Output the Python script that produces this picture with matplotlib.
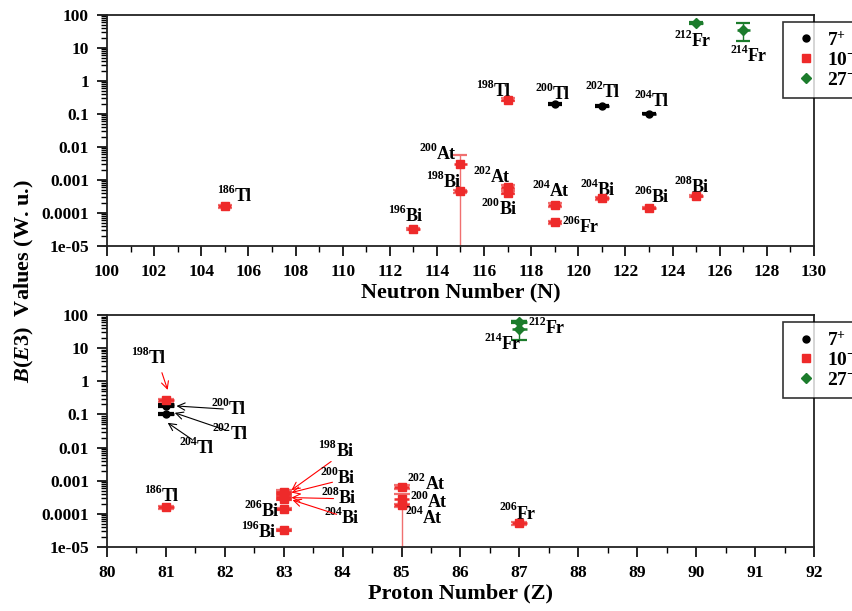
import matplotlib
matplotlib.use('Agg')
import matplotlib.pyplot as plt
from matplotlib.lines import Line2D
from matplotlib.transforms import offset_copy
from matplotlib.ticker import FixedLocator, FixedFormatter, MultipleLocator, LogLocator, NullFormatter

plt.rcParams['font.family'] = ['Liberation Serif', 'DejaVu Serif']
plt.rcParams['font.weight'] = 'bold'
plt.rcParams['mathtext.fontset'] = 'custom'
plt.rcParams['mathtext.rm'] = 'Liberation Serif:bold'
plt.rcParams['mathtext.it'] = 'Liberation Serif:italic:bold'
plt.rcParams['mathtext.bf'] = 'Liberation Serif:bold'

# ---------------- data ----------------
element = ['Tl', 'Tl', 'Tl', 'Tl', 'Tl', 'Bi', 'Bi', 'Bi', 'Bi', 'Bi', 'Bi',
           'At', 'At', 'At', 'Fr', 'Fr', 'Fr']
mass = [198, 200, 202, 204, 186, 196, 198, 200, 204, 206, 208,
        200, 202, 204, 206, 212, 214]
proton = [81, 81, 81, 81, 81, 83, 83, 83, 83, 83, 83, 85, 85, 85, 87, 87, 87]
neutron = [117, 119, 121, 123, 105, 113, 115, 117, 121, 123, 125,
           115, 117, 119, 119, 125, 127]
state = ['10-', '7+', '7+', '7+', '10-', '10-', '10-', '10-', '10-', '10-', '10-',
         '10-', '10-', '10-', '10-', '27-', '27-']
# B(E3) values (W.u.) as drawn vs neutron number
bval_N = [0.27, 0.20, 0.175, 0.102, 1.6e-4, 3.3e-5, 4.6e-4, 4.1e-4, 2.8e-4, 1.4e-4, 3.2e-4,
          3.0e-3, 6.3e-4, 1.75e-4, 5.2e-5, 56, 36]
blow_N = [0.24, 0.19, 0.168, 0.097, 1.45e-4, 3.0e-5, 4.1e-4, 3.7e-4, 2.55e-4, 1.3e-4, 2.95e-4,
          1e-7, 5.5e-4, 1.55e-4, 4.7e-5, 52, 16.5]
bhigh_N = [0.30, 0.21, 0.182, 0.107, 1.75e-4, 3.6e-5, 5.1e-4, 4.6e-4, 3.1e-4, 1.5e-4, 3.5e-4,
           5.7e-3, 7.2e-4, 1.95e-4, 5.7e-5, 60, 56]
# B(E3) values as drawn vs proton number
bval_Z = [0.27, 0.20, 0.175, 0.102, 1.6e-4, 3.3e-5, 4.6e-4, 4.1e-4, 2.8e-4, 1.4e-4, 3.2e-4,
          2.8e-4, 6.3e-4, 1.85e-4, 5.2e-5, 60, 38]
blow_Z = [0.24, 0.19, 0.168, 0.097, 1.45e-4, 3.0e-5, 4.1e-4, 3.7e-4, 2.55e-4, 1.3e-4, 2.95e-4,
          1e-7, 5.5e-4, 1.65e-4, 4.7e-5, 56, 17.6]
bhigh_Z = [0.30, 0.21, 0.182, 0.107, 1.75e-4, 3.6e-5, 5.1e-4, 4.6e-4, 3.1e-4, 1.5e-4, 3.5e-4,
           3.9e-4, 7.2e-4, 2.05e-4, 5.7e-5, 66, 66]

series = ['7+', '10-', '27-']
series_labels = ['7$^{+}$', '10$^{-}$', '27$^{-}$']
ytick_vals = [1e-5, 1e-4, 1e-3, 1e-2, 1e-1, 1, 10, 100]
ytick_text = ['1e-05', '0.0001', '0.001', '0.01', '0.1', '1', '10', '100']

# ---------------- label placement (data coords) ----------------
lab_N = {
    (198, 'Tl'): (116.42, 0.54), (200, 'Tl'): (118.92, 0.43), (202, 'Tl'): (121.04, 0.50),
    (204, 'Tl'): (123.12, 0.265), (186, 'Tl'): (105.43, 3.5e-4), (196, 'Bi'): (112.69, 8.7e-5),
    (198, 'Bi'): (114.3, 9.3e-4), (200, 'Bi'): (116.67, 1.4e-4), (204, 'Bi'): (120.83, 5.3e-4),
    (206, 'Bi'): (123.12, 3.3e-4), (208, 'Bi'): (124.82, 6.6e-4), (200, 'At'): (114.0, 6.6e-3),
    (202, 'At'): (116.29, 1.3e-3), (204, 'At'): (118.8, 5.0e-4), (206, 'Fr'): (120.07, 4.1e-5),
    (212, 'Fr'): (124.82, 17.4), (214, 'Fr'): (127.2, 6.2),
}
lab_Z = {
    (198, 'Tl'): ((80.71, 5.4), (81.03, 0.55), 'red'),
    (200, 'Tl'): ((82.07, 0.155), (81.18, 0.18), 'black'),
    (202, 'Tl'): ((82.10, 0.0275), (81.15, 0.112), 'black'),
    (204, 'Tl'): ((81.53, 0.0104), (81.03, 0.056), 'black'),
    (186, 'Tl'): ((80.93, 3.7e-4), None, None),
    (198, 'Bi'): ((83.89, 8.5e-3), (83.13, 5.2e-4), 'red'),
    (200, 'Bi'): ((83.92, 1.3e-3), (83.13, 4.4e-4), 'red'),
    (208, 'Bi'): ((83.94, 3.2e-4), (83.13, 3.1e-4), 'red'),
    (204, 'Bi'): ((83.99, 8.0e-5), (83.15, 2.6e-4), 'red'),
    (206, 'Bi'): ((82.63, 1.3e-4), None, None),
    (196, 'Bi'): ((82.58, 3.0e-5), None, None),
    (202, 'At'): ((85.41, 8.5e-4), None, None),
    (200, 'At'): ((85.45, 2.5e-4), None, None),
    (204, 'At'): ((85.36, 8.3e-5), None, None),
    (206, 'Fr'): ((86.96, 1.1e-4), None, None),
    (212, 'Fr'): ((87.45, 43), None, None),
    (214, 'Fr'): ((86.70, 14.3), None, None),
}

# ---------------- styles ----------------
RED = '#ee2a2a'
ERR_RED = '#f07070'
GREEN = '#1c7c2c'
style = {
    '7+': dict(color='black', marker='o', ms=5, ecolor='black'),
    '10-': dict(color=RED, marker='s', ms=6, ecolor=RED),
    '27-': dict(color=GREEN, marker='D', ms=5, ecolor=GREEN),
}
EL_SIZE = 13
MASS_SIZE = 8.5

fig = plt.figure(figsize=(8.53, 6.11), dpi=100)
ax1 = fig.add_axes([0.1254, 0.5974, 0.8289, 0.3781])
ax2 = fig.add_axes([0.1254, 0.1047, 0.8289, 0.3797])


def draw(ax, xs, vals, lows, highs, xerr, capsize):
    for s in series:
        idx = [i for i in range(len(xs)) if state[i] == s]
        st = style[s]
        x = [xs[i] for i in idx]
        y = [vals[i] for i in idx]
        ylo = [vals[i] - lows[i] for i in idx]
        yhi = [highs[i] - vals[i] for i in idx]
        ecol = ERR_RED if s == '10-' else st['ecolor']
        ax.errorbar(x, y, yerr=[ylo, yhi], fmt='none', ecolor=ecol, elinewidth=1.0,
                    capsize=capsize, capthick=1.6, zorder=2)
        ax.errorbar(x, y, xerr=xerr, fmt='none', ecolor=st['ecolor'], elinewidth=1.8, zorder=3)
        ax.plot(x, y, linestyle='none', marker=st['marker'], color=st['color'],
                ms=st['ms'], mec=st['color'], zorder=4)


def style_axes(ax, xmin, xmax, major, minor):
    ax.set_yscale('log')
    ax.set_ylim(1e-5, 100)
    ax.set_xlim(xmin, xmax)
    ax.yaxis.set_major_locator(FixedLocator(ytick_vals))
    ax.yaxis.set_major_formatter(FixedFormatter(ytick_text))
    ax.yaxis.set_minor_locator(LogLocator(base=10, subs=range(2, 10), numticks=20))
    ax.yaxis.set_minor_formatter(NullFormatter())
    ax.xaxis.set_major_locator(MultipleLocator(major))
    ax.xaxis.set_minor_locator(MultipleLocator(minor))
    ax.tick_params(which='major', direction='out', length=7, width=1.2, labelsize=12.5,
                   top=False, right=False, pad=6)
    ax.tick_params(which='minor', direction='out', length=4, width=1.0, top=False, right=False)
    for sp in ax.spines.values():
        sp.set_linewidth(1.3)
        sp.set_color('#222222')
    for lab in ax.get_xticklabels() + ax.get_yticklabels():
        lab.set_fontweight('bold')
    handles = [Line2D([], [], linestyle='none', marker=style[s]['marker'], color=style[s]['color'],
                      ms=style[s]['ms']) for s in series]
    leg = ax.legend(handles, series_labels, loc='upper left', bbox_to_anchor=(0.956, 0.97),
                    frameon=True, fancybox=False, edgecolor='black', fontsize=14,
                    handlelength=1.5, handletextpad=0.3, borderpad=0.45, labelspacing=0.12,
                    borderaxespad=0.0)
    leg.get_frame().set_linewidth(1.2)


def nuclide_label(ax, x, y, A, el, tip=None, col=None):
    el_tr = offset_copy(ax.transData, fig=fig, x=0, y=-4.5, units='points')
    ms_tr = offset_copy(ax.transData, fig=fig, x=0, y=1.5, units='points')
    ax.text(x, y, '%d' % A, transform=ms_tr, ha='right', va='baseline',
            fontsize=MASS_SIZE, fontweight='bold')
    if tip is None:
        ax.text(x, y, el, transform=el_tr, ha='left', va='baseline',
                fontsize=EL_SIZE, fontweight='bold')
    else:
        ax.annotate(el, xy=tip, xycoords='data', xytext=(x, y), textcoords=el_tr,
                    ha='left', va='baseline', fontsize=EL_SIZE, fontweight='bold',
                    arrowprops=dict(arrowstyle='->', color=col, lw=0.8, shrinkA=2, shrinkB=0))


draw(ax1, neutron, bval_N, blow_N, bhigh_N, 0.28, 5)
draw(ax2, proton, bval_Z, blow_Z, bhigh_Z, 0.13, 6)
style_axes(ax1, 100, 130, 2, 1)
style_axes(ax2, 80, 92, 1, 0.5)

for i in range(len(mass)):
    key = (mass[i], element[i])
    x, y = lab_N[key]
    nuclide_label(ax1, x, y, mass[i], element[i])
    (tx, ty), tip, col = lab_Z[key]
    nuclide_label(ax2, tx, ty, mass[i], element[i], tip, col)

ax1.set_xlabel('Neutron Number (N)', fontsize=16, fontweight='bold', labelpad=2)
ax2.set_xlabel('Proton Number (Z)', fontsize=16, fontweight='bold', labelpad=2)
fig.text(0.029, 0.54, r'$\mathit{B(E3)}$  Values (W. u.)', rotation=90, fontsize=16,
         fontweight='bold', ha='center', va='center')

fig.savefig('out.png', dpi=100)
